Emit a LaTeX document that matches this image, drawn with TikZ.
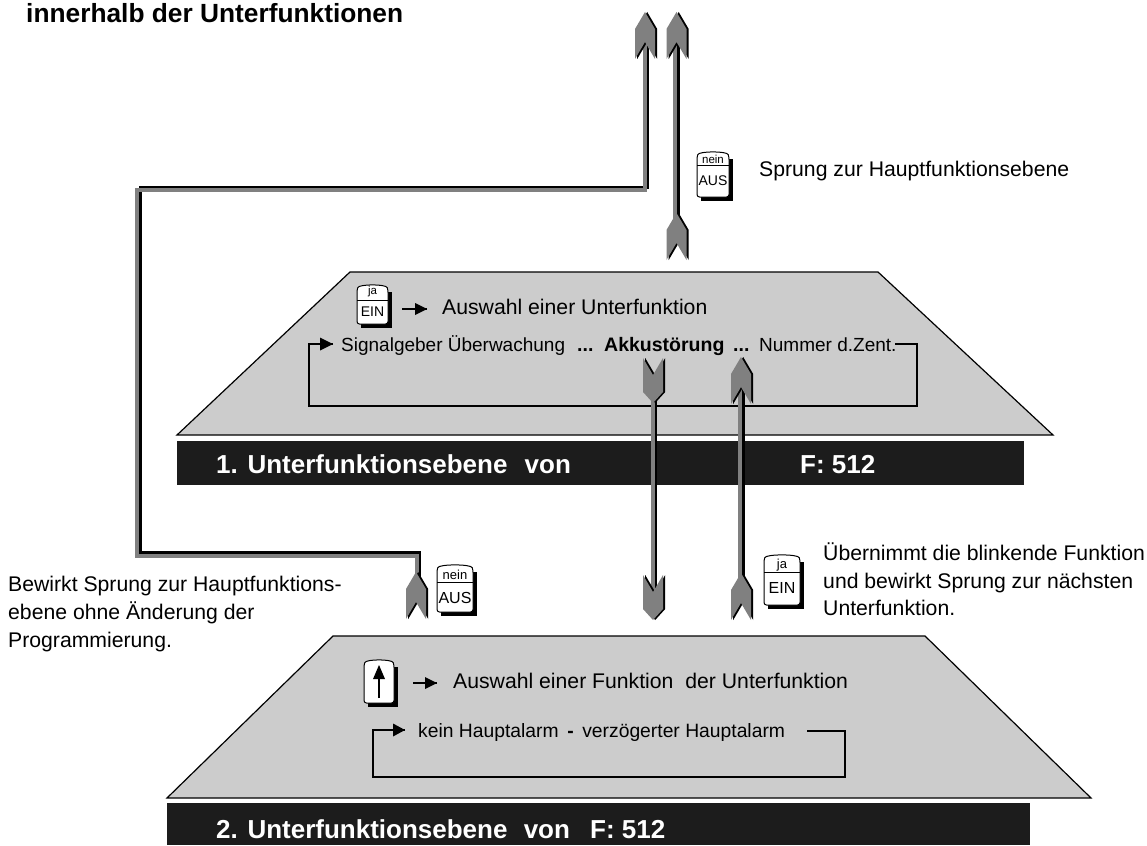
\documentclass[tikz,border=0pt]{standalone}
\usepackage{fontspec}
\setmainfont{Liberation Sans}
\definecolor{panel}{HTML}{CCCCCC}
\definecolor{barbg}{HTML}{1C1C1C}
\definecolor{jump}{HTML}{808080}
\tikzset{
  x=1pt,y=-1pt,
  panelshape/.style={draw=black,line width=1.2pt,fill=panel},
  barshape/.style={fill=barbg,draw=none},
  bartext/.style={anchor=base west,inner sep=0pt,text=white,font=\fontsize{26}{26}\selectfont\bfseries},
  txt/.style={anchor=base west,inner sep=0pt,font=\fontsize{21.2}{21.2}\selectfont},
  midtxt/.style={anchor=base west,inner sep=0pt,font=\fontsize{19}{19}\selectfont},
  midbold/.style={anchor=base west,inner sep=0pt,font=\fontsize{19.5}{19.5}\selectfont\bfseries},
  keylab/.style={inner sep=0pt,font=\fontsize{13}{13}\selectfont},
  thinloop/.style={draw=black,line width=1.2pt},
  jumpgray/.style={draw=jump,line width=4pt,line join=miter},
  jumpblack/.style={draw=black,line width=3pt,line join=miter},
  jumpshiftbend/.style={transform canvas={shift={(3pt,3pt)}}},
  jumpshiftside/.style={transform canvas={shift={(3pt,0pt)}}},
  headgray/.style={fill=jump,draw=none},
  headblack/.style={fill=black,draw=none},
  pics/headup/.style={code={
    \fill[headblack,xshift=2.2pt] (0,0)--(10,17)--(10,47)--(0,30)--(-10,47)--(-10,17)--cycle;
    \fill[headgray] (0,0)--(10,17)--(10,47)--(0,30)--(-10,47)--(-10,17)--cycle;
  }},
  pics/headdown/.style={code={
    \fill[headblack,xshift=2.2pt] (0,0)--(10,-11)--(10,-45)--(0,-28)--(-10,-45)--(-10,-11)--cycle;
    \fill[headgray] (0,0)--(10,-11)--(10,-45)--(0,-28)--(-10,-45)--(-10,-11)--cycle;
  }},
}
\newcommand{\keycap}[6]{% name,x,y,w,h,div
  \fill[black] (#2+4,#3+7) -- (#2+#4+4,#3+7) -- (#2+#4+4,#3+#5+4) -- (#2+4,#3+#5+4) -- cycle;
  \draw[fill=white,line width=1pt,rounded corners=2.5pt] (#2,#3+#5) -- (#2,#3+5) .. controls (#2+2,#3-1) and (#2+#4-2,#3-1) .. (#2+#4,#3+5) -- (#2+#4,#3+#5) -- cycle;
  \ifx\relax#6\relax\else\draw[line width=1pt] (#2,#3+#6) -- (#2+#4,#3+#6);\fi
  \coordinate (#1) at (#2+#4/2,#3+#5/2);
}
\begin{document}
\begin{tikzpicture}
\useasboundingbox (0,0) rectangle (1147,845);
\fill[white] (0,0) rectangle (1147,845);
% panels
\draw[panelshape] (350,272) -- (878,272) -- (1053,435) -- (177,435) -- cycle;
\fill[barshape] (177,441) rectangle (1024,485);
\draw[panelshape] (333,636) -- (925,636) -- (1091,798) -- (167,798) -- cycle;
\fill[barshape] (167,803) rectangle (1030,845);
\node[bartext] (bar1a) at (216,473) {1. Unterfunktionsebene\hspace{10pt} von};
\node[bartext] (bar1b) at (800,473) {F: 512};
\node[bartext] (bar2) at (216,838) {2. Unterfunktionsebene\hspace{9pt} von};
\node[bartext] (bar2b) at (590,838) {F: 512};
% title and notes
\node[anchor=base west,inner sep=0pt,font=\fontsize{26.3}{26.3}\selectfont\bfseries] (title) at (26,23) {innerhalb der Unterfunktionen};
\node[txt] (n1) at (759,176) {Sprung zur Hauptfunktionsebene};
\node[txt] (n2a) at (8,591) {Bewirkt Sprung zur Hauptfunktions-};
\node[txt] (n2b) at (8,619) {ebene ohne Änderung der};
\node[txt] (n2c) at (8,647) {Programmierung.};
\node[txt] (n3a) at (823,560) {Übernimmt die blinkende Funktion};
\node[txt] (n3b) at (823,588) {und bewirkt Sprung zur nächsten};
\node[txt] (n3c) at (823,615) {Unterfunktion.};
% panel 1 content
\node[txt] (t1) at (442,314) {Auswahl einer Unterfunktion};
\node[midtxt] (t2a) at (341,351) {Signalgeber Überwachung};
\node[midbold] (t2b) at (577,351) {...};
\node[midbold] (t2c) at (604,351) {Akkustörung};
\node[midbold] (t2d) at (733,351) {...};
\node[midtxt] (t2e) at (759,351) {Nummer d.Zent.};
% panel 2 content
\node[txt] (t3) at (453,688) {Auswahl einer Funktion\hspace{6pt} der Unterfunktion};
\node[midtxt,font=\fontsize{19.3}{19.3}\selectfont] (t4) at (418,737) {kein Hauptalarm \,{\bfseries -}\, verzögerter Hauptalarm};
% small arrows
\coordinate (a1s) at (402,309); \coordinate (a1e) at (427,309);
\draw[thinloop] (a1s) -- (a1e);
\fill[black] (a1e) -- (415,303) -- (415,315) -- cycle;
\coordinate (a2s) at (413,683); \coordinate (a2e) at (437,683);
\draw[thinloop] (a2s) -- (a2e);
\fill[black] (a2e) -- (425,677) -- (425,689) -- cycle;
% loops
\coordinate (l1a) at (895,344); \coordinate (l1b) at (917,344); \coordinate (l1c) at (917,406);
\coordinate (l1d) at (309,406); \coordinate (l1e) at (309,344); \coordinate (l1f) at (333,344);
\draw[thinloop] (l1a) -- (l1b) -- (l1c) -- (l1d) -- (l1e) -- (l1f);
\fill[black] (l1f) -- (320,337.5) -- (320,350.5) -- cycle;
\coordinate (l2a) at (807,731); \coordinate (l2b) at (845,731); \coordinate (l2c) at (845,777);
\coordinate (l2d) at (373,777); \coordinate (l2e) at (373,730); \coordinate (l2f) at (405,730);
\draw[thinloop] (l2a) -- (l2b) -- (l2c) -- (l2d) -- (l2e) -- (l2f);
\fill[black] (l2f) -- (393,723.5) -- (393,736.5) -- cycle;
% jump lines
\coordinate (j1a) at (644.5,30); \coordinate (j1b) at (644.5,190); \coordinate (j1c) at (137,190);
\coordinate (j1d) at (137,555.5); \coordinate (j1e) at (416.5,555.5); \coordinate (j1f) at (416.5,590);
\draw[jumpblack,jumpshiftbend] (j1a) -- (j1b) -- (j1c) -- (j1d) -- (j1e) -- (j1f);
\draw[jumpgray] (j1a) -- (j1b) -- (j1c) -- (j1d) -- (j1e) -- (j1f);
\coordinate (j2a) at (675,30); \coordinate (j2b) at (675,240);
\draw[jumpblack,jumpshiftside] (j2a) -- (j2b);
\draw[jumpgray] (j2a) -- (j2b);
\coordinate (j3a) at (652.5,380); \coordinate (j3b) at (652.5,600);
\draw[jumpblack,jumpshiftside] (j3a) -- (j3b);
\draw[jumpgray] (j3a) -- (j3b);
\coordinate (j4a) at (740,380); \coordinate (j4b) at (740,590);
\draw[jumpblack,jumpshiftside] (j4a) -- (j4b);
\draw[jumpgray] (j4a) -- (j4b);
% heads
\pic at (645,12) {headup};
\pic at (676.5,12) {headup};
\pic at (676.5,213) {headup};
\pic at (416,572) {headup};
\pic at (653,403) {headdown};
\pic at (653,620) {headdown};
\pic at (741,357) {headup};
\pic at (741,573) {headup};
% keys
\keycap{k1}{697}{152}{32}{45}{14}
\node[keylab,font=\fontsize{11.5}{11.5}\selectfont] (k1t) at (713,159.5) {nein};
\node[keylab,font=\fontsize{14}{14}\selectfont] (k1b) at (713,181) {AUS};
\keycap{k2}{357}{285}{31}{39}{15}
\node[keylab,font=\fontsize{11.5}{11.5}\selectfont] (k2t) at (372.5,292) {ja};
\node[keylab,font=\fontsize{14}{14}\selectfont] (k2b) at (372.5,312) {EIN};
\keycap{k3}{437}{565}{36}{47}{17}
\node[keylab,font=\fontsize{13}{13}\selectfont] (k3t) at (455,575) {nein};
\node[keylab,font=\fontsize{16}{16}\selectfont] (k3b) at (455,598) {AUS};
\keycap{k4}{764}{555}{36}{50}{17}
\node[keylab,font=\fontsize{13}{13}\selectfont] (k4t) at (782,565) {ja};
\node[keylab,font=\fontsize{16}{16}\selectfont] (k4b) at (782,588) {EIN};
\keycap{k5}{364}{660}{30}{43}{}
\coordinate (k5a) at (379,698); \coordinate (k5b) at (379,678);
\draw[thinloop] (k5a) -- (k5b);
\fill[black] (379,665) -- (385,679) -- (373,679) -- cycle;
\end{tikzpicture}
\end{document}
